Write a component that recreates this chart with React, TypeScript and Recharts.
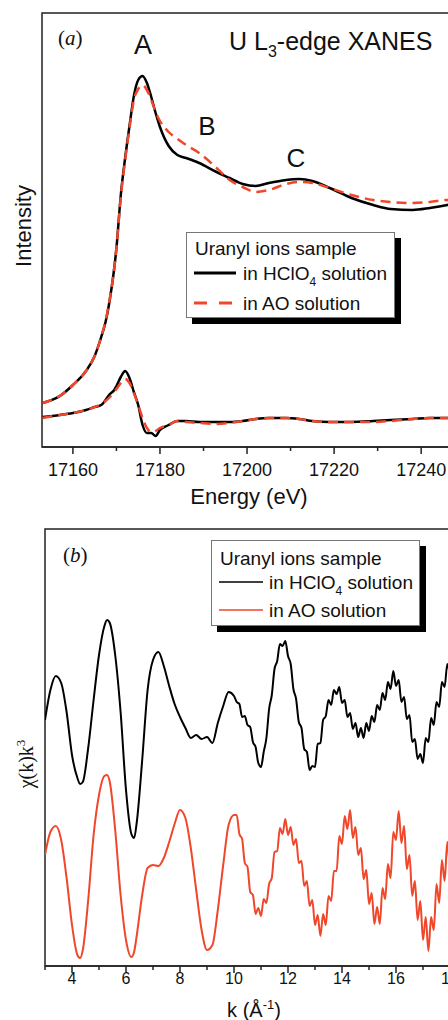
import { LineChart, Line, XAxis, YAxis, ReferenceArea, Legend } from "recharts";

const SANS = "'Liberation Sans', Arial, sans-serif";
const SERIF = "'Liberation Serif', 'Times New Roman', serif";
const RED = "#F0472A";

// (a) U L3-edge XANES, normalised intensity (arb. units, curves offset)
const energy = [
    17153, 17157, 17160, 17163, 17165, 17166.5, 17167.5, 17168.5, 17169.5, 17170,
    17171, 17172, 17173, 17174, 17175, 17176, 17177, 17178, 17179, 17180,
    17182, 17184, 17186, 17189, 17193, 17196, 17199, 17202, 17205, 17209,
    17212, 17215, 17219, 17224, 17229, 17233, 17238, 17242, 17246, 17248,
];
const xanesHClO4 = [
    0.44, 0.51, 0.62, 0.76, 0.91, 1.10, 1.25, 1.48, 1.79, 1.99,
    2.52, 2.89, 3.21, 3.51, 3.67, 3.71, 3.64, 3.50, 3.34, 3.20,
    3.01, 2.92, 2.89, 2.84, 2.75, 2.69, 2.63, 2.61, 2.64, 2.67,
    2.68, 2.66, 2.59, 2.49, 2.42, 2.38, 2.37, 2.39, 2.42, 2.44,
];
const xanesAO = [
    0.44, 0.51, 0.62, 0.76, 0.91, 1.10, 1.26, 1.49, 1.79, 1.99,
    2.50, 2.87, 3.19, 3.47, 3.58, 3.62, 3.57, 3.47, 3.35, 3.26,
    3.15, 3.08, 3.02, 2.94, 2.79, 2.67, 2.60, 2.55, 2.57, 2.63,
    2.65, 2.64, 2.59, 2.52, 2.47, 2.45, 2.44, 2.45, 2.47, 2.47,
];
const derivHClO4 = [
    0.30, 0.32, 0.34, 0.37, 0.40, 0.42, 0.47, 0.53, 0.57, 0.61,
    0.70, 0.76, 0.69, 0.55, 0.42, 0.22, 0.14, 0.14, 0.11, 0.17,
    0.22, 0.26, 0.26, 0.25, 0.25, 0.25, 0.26, 0.28, 0.29, 0.29,
    0.28, 0.26, 0.25, 0.25, 0.26, 0.27, 0.28, 0.29, 0.29, 0.29,
];
const derivAO = [
    0.29, 0.32, 0.34, 0.37, 0.40, 0.43, 0.46, 0.50, 0.55, 0.58,
    0.64, 0.68, 0.64, 0.54, 0.42, 0.29, 0.19, 0.15, 0.16, 0.19,
    0.22, 0.26, 0.25, 0.24, 0.23, 0.24, 0.26, 0.28, 0.29, 0.29,
    0.28, 0.26, 0.25, 0.25, 0.25, 0.26, 0.28, 0.29, 0.29, 0.29,
];
const energyTicks = [17160, 17170, 17180, 17190, 17200, 17210, 17220, 17230, 17240];

// (b) EXAFS chi(k)k^3 (arb. units, curves offset)
const kValues = [
    3.0, 3.2, 3.4, 3.6, 3.8, 4.0, 4.2, 4.3, 4.4, 4.6,
    4.8, 5.0, 5.2, 5.3, 5.4, 5.6, 5.8, 6.0, 6.2, 6.3,
    6.4, 6.6, 6.8, 7.0, 7.2, 7.4, 7.6, 7.8, 8.0, 8.2,
    8.4, 8.6, 8.8, 9.0, 9.2, 9.4, 9.6, 9.8, 10.0,
    10.1, 10.2, 10.3, 10.4, 10.5, 10.6, 10.7, 10.8, 10.9, 11.0,
    11.1, 11.2, 11.3, 11.4, 11.5, 11.6, 11.7, 11.8, 11.9, 12.0,
    12.1, 12.2, 12.3, 12.4, 12.5, 12.6, 12.7, 12.8, 12.9, 13.0,
    13.1, 13.2, 13.3, 13.4, 13.5, 13.6, 13.7, 13.8, 13.9, 14.0,
    14.1, 14.2, 14.3, 14.4, 14.5, 14.6, 14.7, 14.8, 14.9, 15.0,
    15.1, 15.2, 15.3, 15.4, 15.5, 15.6, 15.7, 15.8, 15.9, 16.0,
    16.1, 16.2, 16.3, 16.4, 16.5, 16.6, 16.7, 16.8, 16.9, 17.0,
    17.1, 17.2, 17.3, 17.4, 17.5, 17.6, 17.7, 17.8, 17.9, 18.0,
    18.1, 18.2, 18.3, 18.4, 18.5,
];
const chiHClO4 = [
    2.46, 2.76, 2.90, 2.83, 2.54, 2.11, 1.88, 1.82, 1.84, 2.18,
    2.66, 3.11, 3.40, 3.46, 3.43, 3.11, 2.54, 1.76, 1.32, 1.28,
    1.44, 2.06, 2.76, 3.06, 3.14, 3.00, 2.80, 2.62, 2.49, 2.38,
    2.28, 2.31, 2.27, 2.29, 2.23, 2.43, 2.60, 2.74, 2.70,
    2.64, 2.62, 2.49, 2.50, 2.41, 2.39, 2.24, 2.19, 2.03, 1.99,
    2.14, 2.28, 2.57, 2.71, 2.97, 3.05, 3.22, 3.20, 3.25, 3.10,
    3.02, 2.77, 2.67, 2.44, 2.38, 2.17, 2.14, 1.96, 2.00, 1.99,
    2.22, 2.23, 2.46, 2.50, 2.66, 2.61, 2.76, 2.72, 2.79, 2.63,
    2.66, 2.49, 2.53, 2.37, 2.43, 2.29, 2.38, 2.28, 2.43, 2.35,
    2.50, 2.44, 2.61, 2.56, 2.73, 2.66, 2.84, 2.77, 2.95, 2.80,
    2.86, 2.64, 2.69, 2.47, 2.51, 2.24, 2.27, 2.07, 2.12, 2.03,
    2.28, 2.24, 2.48, 2.41, 2.64, 2.59, 2.84, 2.79, 3.02, 2.94,
    3.15, 3.04, 3.21, 3.08, 3.19,
];
const chiAO = [
    1.11, 1.34, 1.40, 1.26, 0.88, 0.41, 0.11, 0.08, 0.16, 0.66,
    1.31, 1.71, 1.90, 1.91, 1.84, 1.36, 0.71, 0.26, 0.09, 0.14,
    0.31, 0.71, 0.98, 1.01, 1.00, 1.08, 1.24, 1.42, 1.56, 1.48,
    1.18, 0.76, 0.36, 0.16, 0.21, 0.56, 1.01, 1.41, 1.51,
    1.51, 1.32, 1.27, 1.03, 0.99, 0.74, 0.71, 0.52, 0.58, 0.50,
    0.67, 0.63, 0.82, 0.88, 1.14, 1.15, 1.38, 1.32, 1.47, 1.31,
    1.39, 1.21, 1.27, 1.03, 1.05, 0.80, 0.85, 0.60, 0.66, 0.41,
    0.51, 0.30, 0.52, 0.41, 0.70, 0.65, 0.95, 0.95, 1.30, 1.22,
    1.50, 1.37, 1.56, 1.28, 1.39, 1.11, 1.18, 0.87, 0.96, 0.62,
    0.73, 0.42, 0.59, 0.42, 0.78, 0.67, 1.02, 0.88, 1.34, 1.26,
    1.55, 1.23, 1.40, 0.97, 1.11, 0.70, 0.85, 0.46, 0.65, 0.26,
    0.49, 0.15, 0.49, 0.36, 0.82, 0.63, 1.06, 0.85, 1.24, 1.01,
    1.39, 1.13, 1.47, 1.13, 1.36,
];
const kTicks = [3, 4, 5, 6, 7, 8, 9, 10, 11, 12, 13, 14, 15, 16, 17, 18];

const xanesData = energy.map((e, i) => ({
    e,
    hclo4: xanesHClO4[i],
    ao: xanesAO[i],
    dHclo4: derivHClO4[i],
    dAo: derivAO[i],
}));
const exafsData = kValues.map((k, i) => ({ k, hclo4: chiHClO4[i], ao: chiAO[i] }));

function AxisTick({ x, y, payload, step, fontSize, gap }: any) {
    const major = Math.round(payload.value) % step === 0;
    return (
        <g>
            <line x1={x} x2={x} y1={y} y2={y + (major ? 7 : 4)} stroke="#222" strokeWidth={1.5} />
            {major && (
                <text x={x} y={y + gap} textAnchor="middle" fontSize={fontSize} fontFamily={SANS} fill="#111">
                    {payload.value}
                </text>
            )}
        </g>
    );
}

function LegendBox({ left, rows, dashed, thin, textX, lineX }: any) {
    const w = thin ? 1.5 : 3;
    return (
        <div style={{
            position: "relative", width: 209, height: 86, boxSizing: "border-box",
            background: "#fff", border: "1px solid #777", boxShadow: "6px 6px 0 #000",
            fontFamily: SANS, fontSize: 19, color: "#111", lineHeight: 1,
        }}>
            <div style={{ position: "absolute", left, top: rows[0], transform: "translateY(-50%)", whiteSpace: "nowrap" }}>
                Uranyl ions sample
            </div>
            <svg style={{ position: "absolute", left: 0, top: 0 }} width={209} height={86}>
                <line x1={lineX[0]} x2={lineX[1]} y1={rows[1]} y2={rows[1]} stroke="#000" strokeWidth={w} />
                <line x1={lineX[0]} x2={lineX[1]} y1={rows[2]} y2={rows[2]} stroke={RED} strokeWidth={w}
                    strokeDasharray={dashed ? "13 12" : undefined} />
            </svg>
            <div style={{ position: "absolute", left: textX, top: rows[1], transform: "translateY(-50%)", whiteSpace: "nowrap" }}>
                in HClO<span style={{ fontSize: 12, position: "relative", top: 6 }}>4</span> solution
            </div>
            <div style={{ position: "absolute", left: textX, top: rows[2], transform: "translateY(-50%)", whiteSpace: "nowrap" }}>
                in AO solution
            </div>
        </div>
    );
}

function Txt({ x, y, size, children, serif, anchor = "middle", rotate }: any) {
    const tx = anchor === "middle" ? "-50%" : "0";
    return (
        <div style={{
            position: "absolute", left: x, top: y, lineHeight: 1, whiteSpace: "nowrap",
            fontFamily: serif ? SERIF : SANS, fontSize: size, color: "#111",
            transform: `translate(${rotate ? "-50%" : tx}, -50%)${rotate ? " rotate(-90deg)" : ""}`,
        }}>
            {children}
        </div>
    );
}

export default function App() {
    return (
        <div style={{ position: "absolute", left: 0, top: 0, width: 448, height: 1020, overflow: "hidden", background: "#fff" }}>
            <div style={{ position: "absolute", left: 0, top: 0 }}>
                <LineChart width={470} height={510} data={xanesData} margin={{ top: 13, right: 14, left: 42, bottom: 33 }}>
                    <XAxis
                        dataKey="e" type="number" domain={[17152.9, 17248]} ticks={energyTicks} interval={0}
                        allowDataOverflow height={30} tickSize={0} tickMargin={0}
                        axisLine={{ stroke: "#222", strokeWidth: 1.5 }}
                        tick={(p: any) => <AxisTick {...p} step={20} fontSize={18} gap={29} />}
                    />
                    <YAxis hide domain={[0, 4.34]} allowDataOverflow />
                    <ReferenceArea x1={17152.9} x2={17248} y1={0} y2={4.34} fill="none" stroke="#222" strokeWidth={1.5} ifOverflow="visible" />
                    <Line dataKey="hclo4" type="monotone" stroke="#000" strokeWidth={2.5} dot={false} isAnimationActive={false} />
                    <Line dataKey="dHclo4" type="monotone" stroke="#000" strokeWidth={2.5} dot={false} isAnimationActive={false} />
                    <Line dataKey="ao" type="monotone" stroke={RED} strokeWidth={2.5} strokeDasharray="10 6" dot={false} isAnimationActive={false} />
                    <Line dataKey="dAo" type="monotone" stroke={RED} strokeWidth={2.5} strokeDasharray="10 6" dot={false} isAnimationActive={false} />
                    <Legend
                        layout="horizontal" verticalAlign="middle" align="center"
                        wrapperStyle={{ left: 186, top: 232, width: "auto" }}
                        content={() => <LegendBox left={8} rows={[15, 40, 70]} lineX={[7, 49]} textX={56} dashed />}
                    />
                </LineChart>
            </div>

            <div style={{ position: "absolute", left: 0, top: 500 }}>
                <LineChart width={474} height={520} data={exafsData} margin={{ top: 29, right: 10.5, left: 45, bottom: 24 }}>
                    <XAxis
                        dataKey="k" type="number" domain={[3, 18.5]} ticks={kTicks} interval={0}
                        allowDataOverflow height={30} tickSize={0} tickMargin={0}
                        axisLine={{ stroke: "#222", strokeWidth: 1.5 }}
                        tick={(p: any) => <AxisTick {...p} step={2} fontSize={16} gap={18} />}
                    />
                    <YAxis hide domain={[0, 4.37]} allowDataOverflow />
                    <ReferenceArea x1={3} x2={18.5} y1={0} y2={4.37} fill="none" stroke="#222" strokeWidth={1.5} ifOverflow="visible" />
                    <Line dataKey="hclo4" type="monotone" stroke="#000" strokeWidth={2} dot={false} isAnimationActive={false} />
                    <Line dataKey="ao" type="monotone" stroke={RED} strokeWidth={2} dot={false} isAnimationActive={false} />
                    <Legend
                        layout="horizontal" verticalAlign="middle" align="center"
                        wrapperStyle={{ left: 211, top: 40, width: "auto" }}
                        content={() => <LegendBox left={8} rows={[17, 41, 69]} lineX={[7, 51]} textX={57} thin />}
                    />
                </LineChart>
            </div>

            <Txt x={58} y={38} size={21} serif anchor="start">(<i>a</i>)</Txt>
            <Txt x={143} y={45} size={27}>A</Txt>
            <Txt x={207} y={126} size={26}>B</Txt>
            <Txt x={296} y={158} size={26}>C</Txt>
            <Txt x={229} y={41} size={25} anchor="start">
                U L<span style={{ fontSize: 16, position: "relative", top: 7 }}>3</span>-edge XANES
            </Txt>
            <Txt x={24} y={226} size={22} rotate>Intensity</Txt>
            <Txt x={249} y={497} size={22}>Energy (eV)</Txt>

            <Txt x={63} y={555} size={21} serif anchor="start">(<i>b</i>)</Txt>
            <Txt x={26} y={764} size={20} serif rotate>
                χ(k)k<span style={{ fontSize: 13, position: "relative", top: -8 }}>3</span>
            </Txt>
            <Txt x={254} y={1010} size={20}>
                k (Å<span style={{ fontSize: 13, position: "relative", top: -8 }}>-1</span>)
            </Txt>
        </div>
    );
}
